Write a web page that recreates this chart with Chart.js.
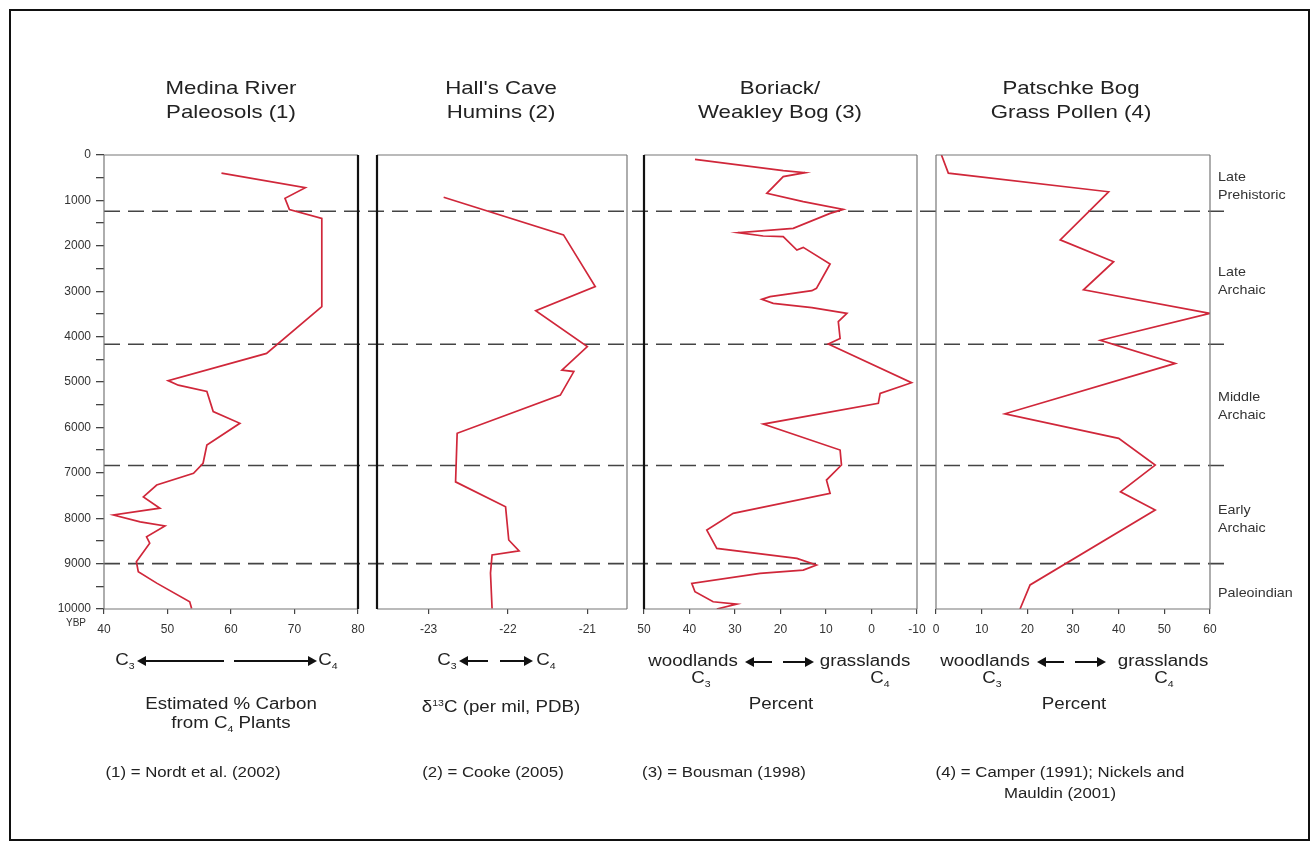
<!DOCTYPE html>
<html>
<head>
<meta charset="utf-8">
<script src="https://cdn.jsdelivr.net/npm/chart.js@4.4.1/dist/chart.umd.min.js"></script>
<style>
  html,body{margin:0;padding:0;background:#fff;}
  body{width:1316px;height:848px;position:relative;overflow:hidden;font-family:"Liberation Sans",Arial,sans-serif;color:#222;}
  #frame{position:absolute;left:9px;top:9px;width:1297px;height:828px;border:2px solid #111;}
  canvas{position:absolute;top:0;}
  .t{position:absolute;white-space:nowrap;text-align:center;}
  .title{font-size:19px;line-height:24px;transform:translateX(-50%) scaleX(1.17);}
  .lab{font-size:16px;line-height:19px;transform:translateX(-50%) scaleX(1.17);}
  .foot{font-size:14px;line-height:21px;transform:translateX(-50%) scaleX(1.2);}
  .per{position:absolute;font-size:13px;line-height:18px;color:#333;white-space:nowrap;transform-origin:left top;transform:scaleX(1.1);}
  .arr{position:absolute;height:2px;background:#111;}
  .arr.l::before{content:"";position:absolute;left:-3px;top:-4px;border-right:9px solid #111;border-top:5px solid transparent;border-bottom:5px solid transparent;}
  .arr.r::after{content:"";position:absolute;right:-3px;top:-4px;border-left:9px solid #111;border-top:5px solid transparent;border-bottom:5px solid transparent;}
  .ybp{position:absolute;font-size:10px;color:#333;}
</style>
</head>
<body>
<div id="frame"></div>

<canvas id="ov" width="1316" height="848" style="left:0;"></canvas>
<canvas id="c1" width="358" height="848" style="left:20px;"></canvas>
<canvas id="c2" width="290" height="848" style="left:357px;"></canvas>
<canvas id="c3" width="313" height="848" style="left:624px;"></canvas>
<canvas id="c4" width="314" height="848" style="left:916px;"></canvas>

<!-- titles -->
<div class="t title" style="left:231px;top:76px;">Medina River<br>Paleosols (1)</div>
<div class="t title" style="left:501px;top:76px;">Hall's Cave<br>Humins (2)</div>
<div class="t title" style="left:780px;top:76px;">Boriack/<br>Weakley Bog (3)</div>
<div class="t title" style="left:1071px;top:76px;">Patschke Bog<br>Grass Pollen (4)</div>

<div class="ybp" style="left:66px;top:617px;">YBP</div>

<!-- arrow rows -->
<div class="t lab" style="left:125px;top:650px;">C<sub style="font-size:9px">3</sub></div>
<div class="arr l" style="left:140px;top:660px;width:84px;"></div>
<div class="arr r" style="left:234px;top:660px;width:80px;"></div>
<div class="t lab" style="left:328px;top:650px;">C<sub style="font-size:9px">4</sub></div>

<div class="t lab" style="left:447px;top:650px;">C<sub style="font-size:9px">3</sub></div>
<div class="arr l" style="left:462px;top:660px;width:26px;"></div>
<div class="arr r" style="left:500px;top:660px;width:30px;"></div>
<div class="t lab" style="left:546px;top:650px;">C<sub style="font-size:9px">4</sub></div>

<div class="t lab" style="left:693px;top:651px;">woodlands</div>
<div class="arr l" style="left:748px;top:661px;width:24px;"></div>
<div class="arr r" style="left:783px;top:661px;width:28px;"></div>
<div class="t lab" style="left:865px;top:651px;">grasslands</div>
<div class="t lab" style="left:701px;top:668px;">C<sub style="font-size:9px">3</sub></div>
<div class="t lab" style="left:880px;top:668px;">C<sub style="font-size:9px">4</sub></div>

<div class="t lab" style="left:985px;top:651px;">woodlands</div>
<div class="arr l" style="left:1040px;top:661px;width:24px;"></div>
<div class="arr r" style="left:1075px;top:661px;width:28px;"></div>
<div class="t lab" style="left:1163px;top:651px;">grasslands</div>
<div class="t lab" style="left:992px;top:668px;">C<sub style="font-size:9px">3</sub></div>
<div class="t lab" style="left:1164px;top:668px;">C<sub style="font-size:9px">4</sub></div>

<!-- axis titles -->
<div class="t lab" style="left:231px;top:694px;">Estimated % Carbon<br>from C<sub style="font-size:9px">4</sub> Plants</div>
<div class="t lab" style="left:501px;top:694px;">δ<sup style="font-size:9px">13</sup>C (per mil, PDB)</div>
<div class="t lab" style="left:781px;top:694px;">Percent</div>
<div class="t lab" style="left:1074px;top:694px;">Percent</div>

<!-- footers -->
<div class="t foot" style="left:193px;top:762px;">(1) = Nordt et al. (2002)</div>
<div class="t foot" style="left:493px;top:762px;">(2) = Cooke (2005)</div>
<div class="t foot" style="left:724px;top:762px;">(3) = Bousman (1998)</div>
<div class="t foot" style="left:1060px;top:762px;">(4) = Camper (1991); Nickels and<br>Mauldin (2001)</div>

<!-- period labels -->
<div class="per" style="left:1218px;top:168px;">Late<br>Prehistoric</div>
<div class="per" style="left:1218px;top:263px;">Late<br>Archaic</div>
<div class="per" style="left:1218px;top:388px;">Middle<br>Archaic</div>
<div class="per" style="left:1218px;top:501px;">Early<br>Archaic</div>
<div class="per" style="left:1218px;top:584px;">Paleoindian</div>

<script>
// ---------------- DATA ----------------
const periodBoundaries = [1240, 4170, 6840, 9000];

const medinaYears = [400,720,955,1200,1395,3340,4370,4970,5070,5210,5650,5910,6390,6790,7010,7270,7530,7780,7930,8080,8170,8410,8550,8960,9180,9430,9840,9990];
const medinaPctC4 = [58.5,71.7,68.5,69.2,74.3,74.3,65.6,50.1,51.7,56.2,57.2,61.4,56.2,55.6,54.1,48.3,46.2,48.8,41.5,45.7,49.6,46.7,47.2,45.1,45.4,48.3,53.5,53.8];

const hallsYears = [930,1760,2900,3430,4220,4740,4770,5290,6130,7200,7750,8480,8720,8810,9210,9990];
const hallsD13C = [-22.81,-21.30,-20.90,-21.65,-21.00,-21.32,-21.17,-21.34,-22.64,-22.66,-22.03,-21.99,-21.86,-22.20,-22.22,-22.20];

const boriackYears = [95,345,389,477,845,1028,1197,1285,1615,1711,1784,1799,2093,2034,2401,2937,2989,3121,3180,3268,3363,3488,3671,4040,4164,5015,5250,5470,5926,6499,6829,7160,7453,7893,8261,8664,8885,9032,9142,9215,9435,9620,9840,9891,10000];
const boriackPct = [38.8,19.4,14.6,19.4,23.0,15.0,6.2,9.1,17.2,29.3,23.8,19.4,16.4,15.0,9.1,12.1,13.1,22.3,24.1,21.6,13.1,5.4,7.3,6.9,9.5,-8.8,-1.9,-1.5,23.8,6.9,6.6,9.9,9.1,30.4,36.2,34.0,16.4,12.1,15.0,24.5,39.5,38.8,34.8,29.6,34.0];

const patschkeYears = [0,400,810,1870,2350,2970,3490,4080,4590,5700,6240,6830,7420,7820,9470,10000];
const patschkePct = [1.2,2.7,37.8,27.2,38.9,32.3,60.0,36.0,52.4,15.1,40.0,48.0,40.4,48.0,20.6,18.4];

const yearTicksStep = 500;
const medinaTicks = [40,50,60,70,80];
const hallsTicks = [-23,-22,-21];
const boriackTicks = [50,40,30,20,10,0,-10];
const patschkeTicks = [0,10,20,30,40,50,60];

// ---------------- STYLE / HELPERS ----------------
const RED = '#d0273a';
const FONT = "'Liberation Sans', Arial, sans-serif";

const borderPlugin = {
  id: 'panelBorder',
  afterDraw(chart, args, opts) {
    const {ctx, chartArea: a} = chart;
    const sides = opts.sides || {};
    const seg = (s, x1, y1, x2, y2) => {
      if (!s) return;
      ctx.save();
      ctx.strokeStyle = s.c; ctx.lineWidth = s.w;
      ctx.beginPath(); ctx.moveTo(x1, y1); ctx.lineTo(x2, y2); ctx.stroke();
      ctx.restore();
    };
    seg(sides.top, a.left, a.top, a.right, a.top);
    seg(sides.bottom, a.left, a.bottom, a.right, a.bottom);
    seg(sides.left, a.left, a.top, a.left, a.bottom);
    seg(sides.right, a.right, a.top, a.right, a.bottom);
  }
};

const thin = {c:'#777', w:1.2};
const thick = {c:'#111', w:2.2};

function toPts(xs, ys) { return ys.map((y, i) => ({x: xs[i], y: y})); }

function panel(id, xs, years, xcfg, sides, showY) {
  const yScale = {
    type: 'linear', reverse: true, min: 0, max: 10000,
    display: showY,
    border: {display: false},
    grid: {drawOnChartArea: false, tickLength: 8, color: '#444', lineWidth: 1.3},
    ticks: {
      stepSize: yearTicksStep, padding: 5, color: '#333',
      font: {family: FONT, size: 12},
      callback: v => (v % 1000 === 0 ? String(v) : '')
    }
  };
  if (showY) yScale.afterFit = s => { s.width = 84; };
  const xScale = Object.assign({
    type: 'linear', position: 'bottom',
    border: {display: false},
    grid: {drawOnChartArea: false, tickLength: 5, color: '#444', lineWidth: 1.2},
    afterFit: s => { s.height = 30; }
  }, xcfg);
  xScale.ticks = Object.assign({padding: 8, color: '#333', font: {family: FONT, size: 12}, autoSkip: false, maxRotation: 0}, xcfg.ticks || {});
  return new Chart(document.getElementById(id), {
    type: 'scatter',
    data: {datasets: [{
      data: toPts(xs, years), showLine: true, borderColor: RED, borderWidth: 1.7,
      pointRadius: 0, tension: 0, fill: false
    }]},
    options: {
      responsive: false, animation: false,
      layout: {padding: {top: 155, bottom: 209, left: showY ? 0 : 20, right: 20}},
      plugins: {legend: {display: false}, tooltip: {enabled: false}, panelBorder: {sides: sides}},
      scales: {x: xScale, y: yScale}
    },
    plugins: [borderPlugin]
  });
}

function fixedTicks(list) {
  return s => { s.ticks = list.map(v => ({value: v})); };
}

// Overlay: dashed period boundaries spanning all panels
new Chart(document.getElementById('ov'), {
  type: 'scatter',
  data: {datasets: periodBoundaries.map(b => ({
    data: [{x: 0, y: b}, {x: 1, y: b}], showLine: true, borderColor: '#444',
    borderWidth: 1.6, borderDash: [16, 8], pointRadius: 0
  }))},
  options: {
    responsive: false, animation: false,
    layout: {padding: {left: 104, right: 86, top: 155, bottom: 239}},
    plugins: {legend: {display: false}, tooltip: {enabled: false}},
    scales: {
      x: {type: 'linear', min: 0, max: 1, display: false},
      y: {type: 'linear', min: 0, max: 10000, reverse: true, display: false}
    }
  }
});

panel('c1', medinaPctC4, medinaYears,
  {min: 40, max: 80, afterBuildTicks: fixedTicks(medinaTicks)},
  {top: thin, bottom: thin, left: thin, right: thick}, true);

panel('c2', hallsD13C, hallsYears,
  {min: -23.65, max: -20.5, afterBuildTicks: fixedTicks(hallsTicks)},
  {top: thin, bottom: thin, left: thick, right: thin}, false);

panel('c3', boriackPct, boriackYears,
  {min: -10, max: 50, reverse: true, afterBuildTicks: fixedTicks(boriackTicks)},
  {top: thin, bottom: thin, left: thick, right: thin}, false);

panel('c4', patschkePct, patschkeYears,
  {min: 0, max: 60, afterBuildTicks: fixedTicks(patschkeTicks)},
  {top: thin, bottom: thin, left: thin, right: thin}, false);
</script>
</body>
</html>
